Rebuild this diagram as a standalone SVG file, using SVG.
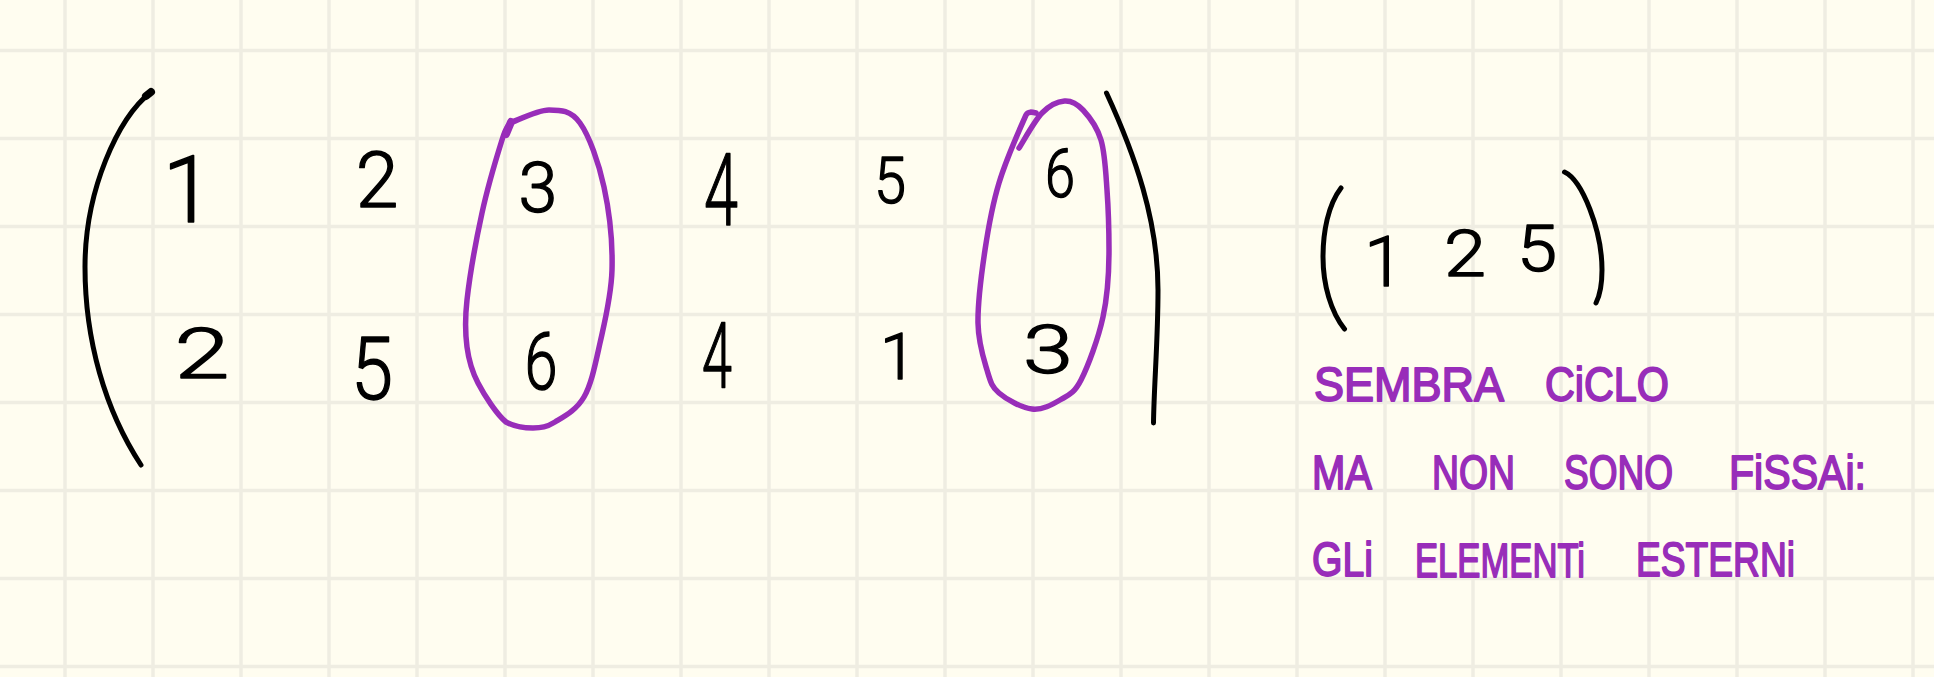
<svg xmlns="http://www.w3.org/2000/svg" width="1934" height="677" viewBox="0 0 1934 677">
<style>
.grid{fill:none;stroke:#EFEDE2;stroke-width:3.5}
.ink{fill:none;stroke:#000;stroke-width:5;stroke-linecap:round;stroke-linejoin:round}
.loop{fill:none;stroke:#982DB9;stroke-width:5.5;stroke-linecap:round;stroke-linejoin:round}
.d{font-family:"Roboto","Liberation Sans",sans-serif;font-weight:300;fill:#000;text-anchor:middle;stroke:#000;stroke-width:1.4;stroke-linejoin:round}
.w{font-family:"Liberation Sans",sans-serif;font-size:48px;fill:#982DB9;stroke:#982DB9;stroke-width:1.8;stroke-linejoin:round}
</style>
<rect width="1934" height="677" fill="#FFFDF0"/>
<path class="grid" d="M65 0V677M153 0V677M241 0V677M329 0V677M417 0V677M505 0V677M593 0V677M681 0V677M769 0V677M857 0V677M945 0V677M1033 0V677M1121 0V677M1209 0V677M1297 0V677M1385 0V677M1473 0V677M1561 0V677M1649 0V677M1737 0V677M1825 0V677M1913 0V677M0 50.5H1934M0 138.5H1934M0 226.5H1934M0 314.5H1934M0 402.5H1934M0 490.5H1934M0 578.5H1934M0 666.5H1934"/>
<g id="connectors">
<path id="paren-left" class="ink" d="M151 92C118 118 85 190 85 267C85 340 105 410 141 465"/>
<path class="ink" style="stroke-width:8" d="M146 96L151 92"/>
<path id="paren-right" class="ink" d="M1106.500 93C1135 155 1158 220 1158 290C1158 340 1154 385 1153.500 423"/>
<path id="paren-small-left" class="ink" d="M1341 188C1328 205 1323 232 1323 257C1323 285 1331 312 1344.500 329"/>
<path id="paren-small-right" class="ink" d="M1564.500 172C1582 180 1602 230 1602 270C1602 285 1600 295 1596 303"/>
<path id="loop-a" class="loop" d="M510 123C516.500 120.800 537.300 110 549 110C560.700 110 570.800 110.200 580 123C589.200 135.800 598.700 162.500 604 187C609.300 211.500 612.700 244 612 270C611.300 296 604.700 321.800 600 343C595.300 364.200 591.500 383.800 584 397C576.500 410.200 563.500 416.800 555 422C546.500 427.200 541.200 428 533 428C524.800 428 515 427 506 422C496.800 414.500 484.500 395.500 478 383C471.500 370.500 468.800 360.800 467 347C465.200 333.200 464.500 322.300 467 300C469.500 277.700 476.200 239.700 482 213C487.800 186.300 497.300 155 502 140C506.700 125 508 127 510 123"/>
<path class="loop" style="stroke-width:8" d="M506 134L511 122"/>
<path id="loop-b" class="loop" d="M1019 148C1023 142 1034.400 120.800 1042 113C1049.600 105.200 1057.700 101.500 1064.500 101C1071.300 100.500 1076.900 103.500 1083 110C1089.100 116.500 1097 126.700 1101 140C1105 153.300 1105.700 171.700 1107 190C1108.300 208.300 1109 228.800 1109 250C1109 271.200 1107.700 295.300 1103 317C1098.300 338.700 1088 366.200 1081 380C1074 393.800 1068.200 395.200 1060 400C1051.800 404.800 1042.200 410.200 1032 409C1021.800 407.800 1006.500 399.500 999 393C991.500 386.500 990.500 381.700 987 370C983.500 358.300 978.300 343 978 323C977.700 303 981.500 273.300 985 250C988.500 226.700 992.200 205.500 999 183C1005.800 160.500 1017 135 1026 115C1028 111 1032 112 1036 113"/>
</g>
<g id="n-1a"><text class="d" x="188" y="222" font-size="92">1</text></g>
<g id="n-2a"><text class="d" x="377" y="207" font-size="77">2</text></g>
<g id="n-3a"><text class="d" x="538" y="212" font-size="70">3</text></g>
<g id="n-4a"><text class="d" x="721" y="225" font-size="100" textLength="34" lengthAdjust="spacingAndGlyphs">4</text></g>
<g id="n-5a"><text class="d" x="890" y="203" font-size="64" textLength="32" lengthAdjust="spacingAndGlyphs">5</text></g>
<g id="n-6a"><text class="d" x="1060" y="197" font-size="67" textLength="30" lengthAdjust="spacingAndGlyphs">6</text></g>
<g id="n-2b"><text class="d" x="202" y="378" font-size="70" textLength="55" lengthAdjust="spacingAndGlyphs">2</text></g>
<g id="n-5b"><text class="d" x="372" y="399" font-size="88" textLength="42" lengthAdjust="spacingAndGlyphs">5</text></g>
<g id="n-6b"><text class="d" x="541" y="389" font-size="79" textLength="33" lengthAdjust="spacingAndGlyphs">6</text></g>
<g id="n-4b"><text class="d" x="717" y="387" font-size="90" textLength="30" lengthAdjust="spacingAndGlyphs">4</text></g>
<g id="n-1b"><text class="d" x="898" y="379" font-size="65">1</text></g>
<g id="n-3b"><text class="d" x="1048" y="373" font-size="67" textLength="50" lengthAdjust="spacingAndGlyphs">3</text></g>
<g id="n-1c"><text class="d" x="1384" y="286" font-size="71">1</text></g>
<g id="n-2c"><text class="d" x="1465" y="276" font-size="65" textLength="42" lengthAdjust="spacingAndGlyphs">2</text></g>
<g id="n-5c"><text class="d" x="1537" y="271" font-size="64" textLength="40" lengthAdjust="spacingAndGlyphs">5</text></g>
<g id="note">
<text class="w" x="1314" y="401" textLength="190" lengthAdjust="spacingAndGlyphs">SEMBRA</text>
<text class="w" x="1545" y="401" textLength="124" lengthAdjust="spacingAndGlyphs">CiCLO</text>
<text class="w" x="1312" y="489" textLength="60" lengthAdjust="spacingAndGlyphs">MA</text>
<text class="w" x="1432" y="489" textLength="83" lengthAdjust="spacingAndGlyphs">NON</text>
<text class="w" x="1564" y="489" textLength="109" lengthAdjust="spacingAndGlyphs">SONO</text>
<text class="w" x="1729" y="489" textLength="137" lengthAdjust="spacingAndGlyphs">FiSSAi:</text>
<text class="w" x="1312" y="576" textLength="61" lengthAdjust="spacingAndGlyphs">GLi</text>
<text class="w" x="1415" y="577" textLength="170" lengthAdjust="spacingAndGlyphs">ELEMENTi</text>
<text class="w" x="1636" y="576" textLength="159" lengthAdjust="spacingAndGlyphs">ESTERNi</text>
</g>
</svg>
